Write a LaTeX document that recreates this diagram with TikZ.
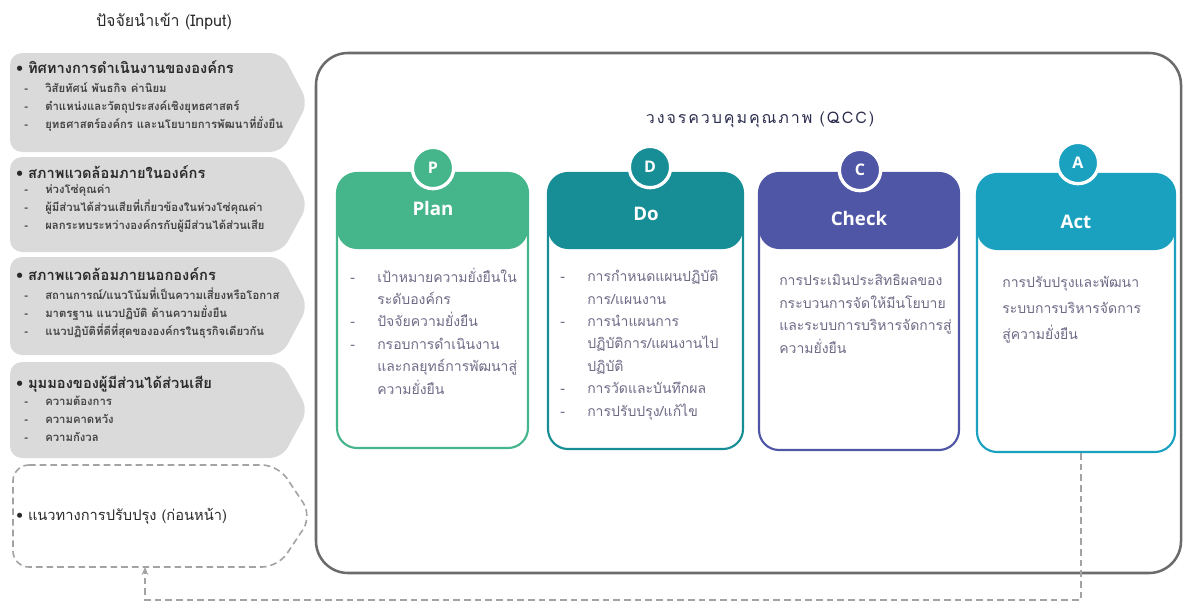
\documentclass[tikz,border=0pt]{standalone}
\usepackage{fontspec}
\newfontfamily\thaifont[Script=Thai]{Loma}
\newfontfamily\thaispaced[Script=Thai,LetterSpace=12]{Loma}
\newfontfamily\latfont{Open Sans}
\usetikzlibrary{arrows.meta,fit}
\definecolor{cplan}{HTML}{45B58C}
\definecolor{cdo}{HTML}{178E96}
\definecolor{ccheck}{HTML}{4F56A6}
\definecolor{cact}{HTML}{19A1BF}
\definecolor{bodytext}{HTML}{6F6B87}
\definecolor{boxgray}{HTML}{DADADA}
\definecolor{dashgray}{HTML}{A3A3A3}
\definecolor{framegray}{HTML}{6B6B6B}
\definecolor{darktext}{HTML}{2A2A2A}
\definecolor{itemtext}{HTML}{454545}
\definecolor{navytext}{HTML}{2B2D4E}
\newcommand\qdash{\makebox[20.25pt][l]{-}}
\newcommand\qind{\hspace*{20.25pt}}
\newcommand\ldash{\makebox[15.75pt][l]{-}}
\begin{document}
\begin{tikzpicture}[x=0.75pt,y=-0.75pt,
  inbox/.style={fill=boxgray, rounded corners=9pt},
  dashbox/.style={draw=dashgray, line width=1.2pt, dash pattern=on 5pt off 3pt, rounded corners=12pt},
  hdtext/.style={anchor=base west, inner sep=0pt, text=darktext, font=\thaifont\bfseries\fontsize{11}{13}\selectfont},
  itemlist/.style={anchor=base west, inner sep=0pt, align=left, text=itemtext, font=\thaifont\bfseries\fontsize{8.5}{13.5}\selectfont},
  frame/.style={draw=framegray, line width=1.9pt, rounded corners=24pt, inner sep=0pt},
  card/.style={draw=#1, fill=white, line width=1.6pt, rounded corners=15pt, inner sep=0pt,
    path picture={\fill[#1] (path picture bounding box.north west) rectangle ([yshift=-57pt]path picture bounding box.north east);}},
  badge/.style={circle, fill=#1, draw=white, line width=2.5pt, minimum size=31pt, inner sep=0pt, text=white, font=\latfont\bfseries\fontsize{12}{14}\selectfont},
  cardtitle/.style={text=white, inner sep=0pt, font=\latfont\bfseries\fontsize{14}{16}\selectfont},
  cardbody/.style={anchor=base west, inner sep=0pt, align=left, text=bodytext, font=\thaifont\fontsize{10.5}{16.8}\selectfont},
  fb/.style={draw=dashgray, line width=1.3pt, dash pattern=on 5pt off 3pt}
]
\useasboundingbox (0,0) rectangle (1184,603);
% ---- Input title
\node[inner sep=0pt, text=darktext, font=\thaifont\fontsize{12}{14}\selectfont] (intitle) at (164,22) {ปัจจัยนำเข้า (Input)};
% ---- Input boxes
\path[inbox] (10,53) -- (282,53) -- (308,102.5) -- (282,152) -- (10,152) -- cycle;
\path[inbox] (10,157) -- (282,157) -- (308,204.5) -- (282,252) -- (10,252) -- cycle;
\path[inbox] (10,257) -- (282,257) -- (308,306) -- (282,355) -- (10,355) -- cycle;
\path[inbox] (10,362) -- (282,362) -- (308,410) -- (282,458) -- (10,458) -- cycle;
\node[hdtext] (h1) at (16,73) {• ทิศทางการดำเนินงานขององค์กร};
\node[itemlist] (i1) at (24,128) {\ldash วิสัยทัศน์ พันธกิจ ค่านิยม\\ \ldash ตำแหน่งและวัตถุประสงค์เชิงยุทธศาสตร์\\ \ldash ยุทธศาสตร์องค์กร และนโยบายการพัฒนาที่ยั่งยืน};
\node[hdtext] (h2) at (16,178) {• สภาพแวดล้อมภายในองค์กร};
\node[itemlist] (i2) at (24,229) {\ldash ห่วงโซ่คุณค่า\\ \ldash ผู้มีส่วนได้ส่วนเสียที่เกี่ยวข้องในห่วงโซ่คุณค่า\\ \ldash ผลกระทบระหว่างองค์กรกับผู้มีส่วนได้ส่วนเสีย};
\node[hdtext] (h3) at (16,280) {• สภาพแวดล้อมภายนอกองค์กร};
\node[itemlist] (i3) at (24,335) {\ldash สถานการณ์/แนวโน้มที่เป็นความเสี่ยงหรือโอกาส\\ \ldash มาตรฐาน แนวปฏิบัติ ด้านความยั่งยืน\\ \ldash แนวปฏิบัติที่ดีที่สุดขององค์กรในธุรกิจเดียวกัน};
\node[hdtext] (h4) at (16,388) {• มุมมองของผู้มีส่วนได้ส่วนเสีย};
\node[itemlist] (i4) at (24,441) {\ldash ความต้องการ\\ \ldash ความคาดหวัง\\ \ldash ความกังวล};
% ---- dashed improvement box
\draw[dashbox] (13,465) -- (278,465) -- (312,516) -- (278,567) -- (13,567) -- cycle;
\node[hdtext, font=\thaifont\fontsize{11}{13}\selectfont] (imp) at (16,520) {• แนวทางการปรับปรุง (ก่อนหน้า)};
\coordinate (impbot) at (145,567);
% ---- big frame
\node[frame, fit={(316,53)(1181,573)}] (qcc) {};
\node[inner sep=0pt, text=navytext, font=\thaispaced\fontsize{12}{14}\selectfont] (qcctitle) at (760,120) {วงจรควบคุมคุณภาพ (QCC)};
% ---- cards
\node[card=cplan, fit={(337,173)(528,448)}] (plan) {};
\node[card=cdo, fit={(548,173)(743,449)}] (do) {};
\node[card=ccheck, fit={(759,173)(959,450)}] (check) {};
\node[card=cact, fit={(977,174)(1175,452)}] (act) {};
\node[badge=cplan] (pb) at (433,168) {P};
\node[badge=cdo] (db) at (650,167) {D};
\node[badge=ccheck] (cb) at (860,170) {C};
\node[badge=cact] (ab) at (1078,163) {A};
\node[cardtitle] (pt) at (433,208) {Plan};
\node[cardtitle] (dt) at (646,214) {Do};
\node[cardtitle] (ct) at (859,218) {Check};
\node[cardtitle] (at) at (1076,222) {Act};
\node[cardbody] (pbody) at (350,394) {\qdash เป้าหมายความยั่งยืนใน\\ \qind ระดับองค์กร\\ \qdash ปัจจัยความยั่งยืน\\ \qdash กรอบการดำเนินงาน\\ \qind และกลยุทธ์การพัฒนาสู่\\ \qind ความยั่งยืน};
\node[cardbody] (dbody) at (560,416) {\qdash การกำหนดแผนปฏิบัติ\\ \qind การ/แผนงาน\\ \qdash การนำแผนการ\\ \qind ปฏิบัติการ/แผนงานไป\\ \qind ปฏิบัติ\\ \qdash การวัดและบันทึกผล\\ \qdash การปรับปรุง/แก้ไข};
\node[cardbody] (cbody) at (779,353) {การประเมินประสิทธิผลของ\\ กระบวนการจัดให้มีนโยบาย\\ และระบบการบริหารจัดการสู่\\ ความยั่งยืน};
\node[cardbody, font=\thaifont\fontsize{10.5}{19.5}\selectfont] (abody) at (1002,339) {การปรับปรุงและพัฒนา\\ ระบบการบริหารจัดการ\\ สู่ความยั่งยืน};
% ---- feedback connector
\coordinate (turn) at (1081,600);
\draw[fb, -{Stealth[length=6pt,width=5pt]}] (act.south -| turn) -- (turn) -| (impbot);
\end{tikzpicture}
\end{document}
